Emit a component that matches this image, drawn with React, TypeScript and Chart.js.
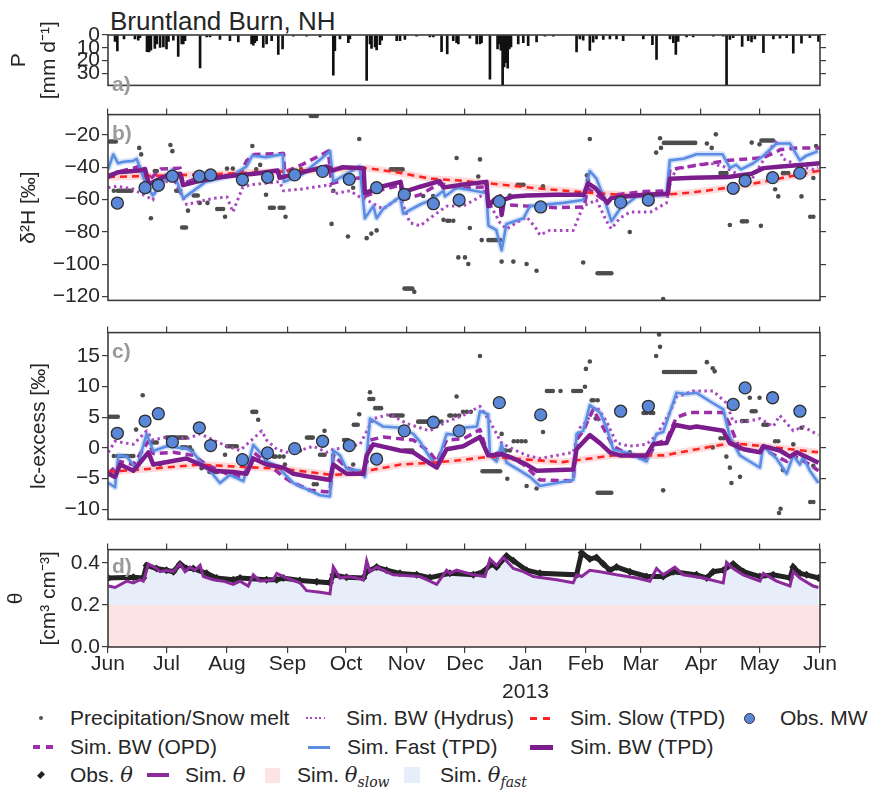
import React, { useEffect, useRef } from "react";
import { Chart, registerables } from "chart.js";

Chart.register(...registerables);

type Pt = [number, number];

// ---------- time axis: days counted from 1 June 2012 ----------
const monthDays = [0, 30, 61, 92, 122, 153, 183, 214, 245, 273, 304, 334, 365];
const monthNames = ["Jun", "Jul", "Aug", "Sep", "Oct", "Nov", "Dec", "Jan", "Feb", "Mar", "Apr", "May", "Jun"];
const newYearLabel = "2013";

// ---------- value-axis ticks ----------
const rainTicks = [0, 10, 20, 30];
const d2hTicks = [-120, -100, -80, -60, -40, -20];
const lcTicks = [-10, -5, 0, 5, 10, 15];
const thetaTicks = [0, 0.2, 0.4];

// ---------- a) daily precipitation / snow melt [mm/d] ----------
const rainfall: Pt[] = [
  [3.6, 5], [4.8, 12.6], [8.2, 3], [13.8, 3], [15.5, 4], [16.4, 2], [20, 13], [21, 13.2], [22, 12],
  [24, 10.5], [25, 7], [26.7, 9.8], [28.4, 9.4], [30, 10.9], [31, 5], [33.5, 4], [36, 16.8], [37.8, 7],
  [38.6, 7], [39.5, 4.5], [47.2, 25.8], [50.6, 1.5], [52.3, 1.5], [57.4, 3.5], [62.5, 4.5], [66.8, 5.5],
  [73.6, 7], [74.5, 8], [75.3, 6], [76.2, 4.5], [79.6, 9.8], [81.3, 7], [83.9, 4.5], [87.3, 15.3],
  [89.5, 11], [95, 1], [101.8, 1], [108.7, 1.5], [115.5, 31.6], [116.3, 12.4], [118.9, 3], [123.2, 6],
  [124, 3], [132.6, 35.6], [134.3, 7], [135.1, 10.5], [136.9, 9.4], [137.7, 11.8], [139.4, 7.5],
  [140.3, 4], [148, 4.5], [149.7, 4.5], [152.2, 3.5], [158.2, 1], [165, 1.5], [166.8, 1.5], [171, 13],
  [173.9, 14.8], [177, 4.5], [178.7, 6], [179.6, 7], [185.5, 2.5], [189, 7], [190.7, 7], [191.5, 6],
  [195.8, 34.8], [199.7, 10.9], [200.6, 7], [201.4, 12], [202.3, 45], [203.1, 25], [204, 21.8],
  [204.9, 26], [205.7, 11], [206.6, 9.4], [210.3, 7], [212.9, 6], [215.4, 8.3], [219.7, 5.4], [224, 1],
  [228.3, 1], [240.2, 13.3], [241.9, 3], [243.6, 4], [247, 12.2], [248.7, 5.7], [250.4, 3], [253.9, 3.5],
  [257.3, 3], [260.7, 3], [264.1, 4.5], [274.4, 3], [279.1, 7.5], [281.2, 19.2], [288.1, 3], [289.8, 6],
  [291.1, 15.3], [292.3, 5], [296.6, 1.5], [300, 1.5], [310.3, 1], [315.4, 1], [317.1, 45], [318.8, 3.5],
  [320.5, 2], [325.1, 8.9], [328.2, 4.5], [329.9, 5.4], [331.6, 3], [336, 13.9], [341.1, 3], [344.5, 2.5],
  [347.9, 2], [351.3, 14.2], [355.5, 6.5], [359.8, 2], [364.2, 5],
];

// ---------- b) deuterium [permil] ----------
const precipD2H: Pt[] = [
  [1, -24], [2, -24], [3, -24], [4, -24],
  [3, -54.5], [5, -54.5], [6, -54.5], [7, -54.5], [8, -54.5], [9, -54.5], [10, -54.5], [11, -54.5], [12, -54.5],
  [16, -28], [17, -32], [22, -71.5], [24, -42.3], [25, -42.3], [32, -26.2], [33, -30],
  [35, -54.5], [36, -54.5], [37, -54.5], [38, -77.2], [39, -77.2], [40, -77.2], [41, -66.8],
  [44, -57.4], [45, -57.4], [46, -57.4], [47, -62], [51, -62],
  [56, -65.8], [57, -65.8], [58, -65.8], [59, -65.8], [60, -70.6], [61, -40.8], [64, -40.8],
  [74, -26.8], [76, -41.3], [78, -38.5], [81, -57], [83, -65], [84, -65], [85, -65], [88, -65], [89, -65],
  [90, -65], [91, -70.6], [99, -41.3], [104, -8.3], [105, -8.3], [106, -8.3], [107, -8.3],
  [114.6, -75], [115.5, -54.5], [123, -82.8], [125.7, -52.6], [128.8, -22.5], [132.6, -83.8], [135, -81],
  [137.7, -79], [145, -41.3], [146, -41.3], [147, -41.3], [148, -41.3], [149, -41.3], [150, -41.3], [151, -41.3],
  [152, -115], [153, -115], [154, -115], [155, -115], [156, -115], [157, -117], [161.6, -57.7], [166.7, -57.7],
  [172, -72.5], [174, -73], [175, -73], [177, -73], [178.7, -34.2], [179.6, -95.7], [183, -95.7],
  [184.7, -99.8], [185.5, -77.5], [189.8, -45.7], [190.7, -35.1], [191.6, -85],
  [195, -85], [196, -85], [197, -85], [198, -85], [199, -85], [200, -85], [201, -85], [201.8, -98.3],
  [206, -57.4], [207.8, -98.3], [210, -50.8], [211, -50.8], [212, -50.8], [213, -50.8], [214.6, -99.8],
  [219.7, -104], [223, -51.7], [243.6, -98.9], [245.5, -45], [246, -48], [247, -22.5],
  [251, -105.5], [252, -105.5], [253, -105.5], [254, -105.5], [255, -105.5], [256, -105.5], [257, -105.5], [258, -105.5],
  [267.5, -80], [281, -30.9], [283, -22], [283.5, -28], [284.6, -121.5],
  [285, -24.9], [286, -24.9], [287, -24.9], [288, -24.9], [289, -24.9], [290, -24.9], [291, -24.9], [292, -24.9],
  [293, -24.9], [294, -24.9], [295, -24.9], [296, -24.9], [297, -24.9], [298, -24.9], [299, -24.9], [300, -24.9], [301, -24.9],
  [307, -25.3], [309.5, -28], [311.6, -19.6], [314, -43.6], [315, -43.6], [316, -43.6], [317, -43.6],
  [318.8, -75.7], [325, -73.4], [326, -73.4], [327.5, -73.4], [330, -24.7], [334, -25.8], [334.7, -76.2],
  [335, -23.4], [336, -23.4], [337, -23.4], [338, -23.4], [339, -23.4], [340, -23.4], [341, -23.4],
  [342, -53.6], [343.6, -58], [346, -43.6], [347, -43.6], [348.7, -43.6], [355.5, -58], [360, -70.6],
  [361.6, -70.6], [361.6, -46.6], [363, -26.8],
];

const simHydrusD2H: Pt[] = [
  [0, -52.6], [4.4, -51.7], [13, -53.5], [23, -60.2], [24.9, -51.7], [33.5, -47], [40.3, -63], [47, -61.1],
  [54, -59.2], [61, -58.3], [64, -67.7], [69, -52.6], [72.8, -50.8], [81, -49.8], [88, -48.9], [89.9, -54.5],
  [98.4, -53.6], [113.8, -50.8], [115.5, -56.4], [124, -54.5], [129, -58.3], [132.6, -60.2], [141, -65.8],
  [149.7, -58.3], [154.8, -74.3], [160, -76.2], [166.7, -70], [173.6, -64], [182, -63.9], [190.7, -58.3],
  [194, -52.6], [195.8, -63], [201, -74.3], [204.3, -78.2], [209.4, -74.3], [214.6, -70.6], [219.7, -78.2],
  [221.4, -81.9], [226.5, -79], [238.5, -79], [243.6, -63.9], [250.4, -60.2], [255.6, -73.4], [258, -78],
  [262.4, -71.5], [267.5, -67.7], [278, -67.7], [286.3, -62], [288, -50.8], [291, -41.3], [301.7, -38.5],
  [308.5, -37.5], [315.3, -39.4], [324, -45], [328, -51.7], [334, -39.4], [342.7, -23], [346, -34.7],
  [354.7, -39.4], [361.5, -41.3], [364, -40],
];

const simSlowD2H: Pt[] = [
  [0, -46], [30, -45], [60, -44], [90, -42.5], [115, -41.2], [133, -40.5], [150, -43.5], [165, -47],
  [180, -48.2], [196, -50], [220, -53], [245, -55.5], [267, -57.3], [287, -56.8], [300, -55.5],
  [318, -52.6], [336, -49], [350, -45.5], [365, -42],
];

const simBwOpdD2H: Pt[] = [
  [0, -45], [8, -42], [16, -39.5], [21, -48], [27, -41], [37, -40.5], [38.5, -50], [45, -47], [60, -45],
  [68, -44], [71, -36], [75, -32], [90, -31.5], [90.5, -43], [100, -38], [113, -30], [114.5, -50],
  [125, -47], [131, -46.5], [131.7, -58], [140, -54], [150, -51], [151, -60], [160, -57], [170, -50],
  [180, -53], [194, -52], [195, -64], [203, -63], [215, -64], [230, -65], [244, -64.5], [246, -53],
  [256, -62], [260, -57], [275, -55], [287, -54.5], [288, -41.3], [295, -40], [309, -37.5], [318, -35.7],
  [336, -34], [345, -29], [354, -28], [365, -28],
];

const simFastD2H: Pt[] = [
  [0, -41.3], [2.7, -32], [5.2, -37.5], [8, -36.6], [13, -36], [14.7, -34.7], [19.6, -50.8], [23, -57.4],
  [33, -41.3], [38.6, -59.2], [50, -49], [64, -45], [71, -39.4], [74, -32.8], [81, -33.7], [89.6, -31.9],
  [90.2, -49], [100, -44], [113.8, -30], [115.5, -48.9], [129, -39.4], [131.7, -71.5], [136, -64],
  [137.7, -71.5], [141, -65.8], [149.7, -58.3], [151.4, -68.7], [160, -63], [166, -60], [172, -54.5],
  [172.7, -58], [178.7, -52.6], [190, -55], [194, -56], [195, -76], [199, -78.7], [201.8, -91.3],
  [204.3, -75], [213, -71.5], [216.3, -64], [233.4, -62], [243.6, -60.2], [247, -42.3], [250.4, -47],
  [254, -58], [258.1, -73.4], [262.4, -65.8], [271, -58], [286.3, -57.1], [288, -35.7], [295, -34.7],
  [301.7, -31.9], [315, -31.9], [318.8, -40.4], [322, -38.5], [324.6, -41.3], [330.7, -37.5], [336, -32.8],
  [342.7, -25.3], [349.6, -25.3], [354.7, -35.7], [358, -32.8], [364, -30],
];

const simBwTpdD2H: Pt[] = [
  [0, -46], [5, -43], [16, -42], [19, -41], [21, -50.5], [25, -48], [30, -45], [37, -44], [38.5, -51],
  [45, -49], [55, -46.5], [65, -45], [75, -44], [87, -42], [88, -46.5], [100, -43], [112, -39.5],
  [114, -40.5], [115, -42], [120, -40], [131, -40.5], [131.7, -56], [140, -52], [150, -49], [151, -55.5],
  [160, -52], [170, -48.5], [172, -52.5], [180, -51], [194, -49], [195, -64], [198, -60], [201, -58],
  [201.8, -69.5], [203, -60], [208, -58], [215, -57.5], [230, -57], [244, -57], [246, -49.8], [250, -53],
  [256, -62], [258, -59], [265, -58], [275, -57], [287, -56.4], [288, -47], [300, -46.5], [318, -46],
  [330, -44], [336, -40.5], [345, -39.5], [355, -38.5], [365, -37.5],
];

// mobile-water sampling dates and values
const obsMwDays = [4.8, 19, 25.8, 33, 46.8, 52.6, 68.9, 81.8, 95.7, 110, 123.7, 137.7, 151.9, 166.8, 180, 200.6, 221.8, 262.8, 277, 320.5, 326.6, 340.7, 354.7];
const obsMwD2H = [-62.1, -52.6, -51.1, -45.5, -45.5, -44.7, -47.7, -46.2, -44.7, -42.5, -47.4, -52.6, -56.8, -62.5, -60.2, -61.1, -64.5, -61.7, -60.2, -53, -48.3, -46.4, -43.6];
const obsMwLc = [2.4, 4.4, 5.6, 1.0, 3.3, 0.4, -1.9, -0.8, -0.1, 1.1, 0.4, -1.8, 2.8, 4.2, 2.8, 7.4, 5.4, 6.0, 6.8, 7.1, 9.8, 8.2, 6.0];

// ---------- c) lc-excess [permil] ----------
const precipLc: Pt[] = [
  [1, 5.1], [2, 5.1], [3, 5.1], [4, 5.1], [5, 5.1],
  [3, -1.3], [5, -1.3], [6, -1.3], [7, -1.3], [8, -1.3], [9, -1.3], [10, -1.3], [11, -1.3], [12, -1.3], [13, -1.3],
  [2.7, 2.1], [14.4, 3.0], [17.8, 8.6], [17.8, 4.4], [22, 0.9], [23, 0.9], [24, 0.9], [25, 0.9], [26.7, -2.7],
  [30, 1.7], [31, 1.7], [32, 1.7], [33, 1.7], [34, 1.7], [35, 1.7], [36, 1.7], [37, 1.7], [38, 1.7], [39, 1.7], [40, 1.7],
  [38, 0.1], [39, 0.1], [40, 0.1], [42, 0.1], [43, -0.4], [48, -3.3], [52, -3.9], [53, -3.9], [55, -3.9], [56, -3.9],
  [60, -1.1], [61, 0.3], [62, 0.3], [63, 0.3], [64, 0.3], [65, 0.3], [66, 0.3],
  [74, 5.9], [75, 5.9], [76, 5.9], [77, 4.6], [81, -1.9], [85, -1.4], [86, -1.4], [88, -1.4], [90, -1.4], [90.7, -2.7],
  [98.4, -0.4], [102, 1.7], [103, 1.7], [104, 1.7], [105, 1.7], [105.5, -5.9], [107, -5.9], [108.7, -1.1], [110, -1.1],
  [111, -1.1], [111, 2.8], [115.5, -1.2], [121, 1.3], [122, 1.3], [123, 1.3], [125.7, -2.7], [126, 3.8], [127, 3.8],
  [128, 3.8], [128.8, 5.5], [132.6, -2.2], [134, 8.0], [134.3, 9.1], [135, 8.0], [136, 8.0], [137, 6.5], [138, 6.5],
  [139, 6.5], [140, 6.5], [145, 5.3], [146, 5.3], [147, 5.3], [148, 5.3], [149, 5.3], [150, 5.3], [151, 5.3],
  [152, -0.4], [153, -0.4], [154, -0.4], [155, -0.4], [156, -0.4],
  [159, 4.3], [160, 4.3], [161, 4.3], [162, 4.3], [163, 4.3], [164, 4.3], [165, 4.3], [167, 4.3], [169, 4.3], [171, 4.3],
  [175, 5.3], [176, 5.3], [178, 5.3], [180, 5.3], [178.7, 8.4], [182, 5.9], [184, 5.9], [186, 5.9], [190.7, 15.0],
  [192, -3.8], [193, -3.8], [194, -3.8], [195, -3.8], [196, -3.8], [197, -3.8], [198, -3.8], [199, -3.8], [200, -3.8], [201, -3.8],
  [201.8, 2.3], [203, -0.4], [204, -0.4], [206, -0.4], [204.7, -5.0], [208, 1.1], [210, 1.1], [212, 1.1], [214, 1.1],
  [214.6, -6.2], [219.7, -6.6], [223, 2.6], [225, 9.3], [226, 9.3], [227, 9.3], [228, 9.3], [232, 9.3],
  [238.5, 9.3], [239.5, 9.3], [240.5, 9.3], [241.5, 9.3], [242.5, 9.3], [244.5, 10.0], [245, 12.9], [247, 14.1],
  [248, 7.8], [249, 7.8], [251, 7.8], [250, 4.8],
  [251, -7.3], [252, -7.3], [253, -7.3], [254, -7.3], [255, -7.3], [256, -7.3], [257, -7.3], [258, -7.3],
  [267.5, -0.7], [274.5, 5.7], [276, 5.7], [278, 5.7], [279.5, 5.7], [281, 15.0], [283, 16.5], [282.5, 18.5], [284.6, -6.9],
  [285, 12.4], [286, 12.4], [287, 12.4], [288, 12.4], [289, 12.4], [290, 12.4], [291, 12.4], [292, 12.4], [293, 12.4],
  [294, 12.4], [295, 12.4], [296, 12.4], [297, 12.4], [298, 12.4], [299, 12.4], [300, 12.4], [301, 12.4],
  [307, 14.0], [310, 13.0], [311, 12.5], [310, 0.1], [314, 1.6], [315.6, 1.6], [317, -1.4], [318.8, -3.2],
  [319.6, -5.7], [324, -4.7], [325, 4.4], [326, 4.4], [327.5, 4.4], [329, 8.2], [330, 6.0], [331, 6.0], [332, 6.0],
  [334, 8.2], [336, 3.8], [337, 3.8], [338, 3.8], [342, 1.1], [343.6, 1.1], [344, -10.6], [344.8, -9.9],
  [346, -3.6], [351.3, 0.6], [355.5, 3.3], [360, -8.8], [361.6, -8.8], [361.6, -2.9],
];

const simHydrusLc: Pt[] = [
  [0.2, -0.7], [3.6, 1.1], [13, 0.6], [19.8, 2.8], [23.2, 1.3], [30, 1.8], [40.3, 1.5], [47.2, 2.3], [54, 1.3],
  [60.8, 0.3], [67.7, -0.4], [78.8, 2.8], [81.3, 1.3], [86.5, -0.2], [91.6, -0.7], [98.4, -0.4], [105.2, 0.3],
  [112.1, -0.7], [115.5, -0.2], [122.3, 0.1], [129.2, 0.6], [136, 4.8], [144.5, 5.5], [153.1, 4.0],
  [159.9, 3.3], [165, 2.8], [173.6, 4.3], [182.1, 5.3], [190.7, 6.8], [195.8, 4.3], [201.8, 0.8], [207.8, -0.2],
  [214.6, -1.2], [221.4, -1.7], [238.5, -0.7], [241.9, 3.3], [245.3, 4.3], [250.4, 6.8], [255.6, 4.3],
  [260.7, 0.8], [267.5, 0.3], [276.1, 0.6], [281.2, 2.1], [288, 5.8], [291.4, 8.3], [300, 9.3], [310.2, 9.3],
  [317.1, 7.3], [320.5, 4.3], [327.3, 4.3], [334.2, 4.8], [341, 3.5], [344.4, 5.3], [351.3, 2.8], [356.4, 3.5],
  [364.2, 2.1],
];

const simSlowLc: Pt[] = [
  [0, -3.9], [25, -3.3], [47, -2.7], [70, -3.1], [90, -3.4], [105, -4.0], [115, -4.4], [125, -4.2], [135, -3.6],
  [150, -2.7], [166, -2.4], [180, -2.0], [196, -1.4], [215, -1.9], [233, -2.3], [245, -1.8], [259, -1.2],
  [285, -1.2], [302, -0.2], [319, 0.8], [336, 0.3], [350, -0.2], [364, -0.7],
];

const simBwOpdLc: Pt[] = [
  [0.2, -4.2], [6.2, -2.2], [13, -2.7], [20.7, 1.1], [23.2, -0.9], [33.5, -0.7], [43.7, -1.2], [50.6, -2.7],
  [60.8, -4.2], [69.4, -4.7], [74.5, -0.7], [81.3, -2.4], [89.9, -4.7], [95, -5.7], [103.5, -6.9],
  [113.8, -7.2], [115.5, -1.2], [122.3, -3.2], [130.9, -4.2], [134.3, 1.3], [141.1, 1.8], [149.7, 1.5],
  [156.5, 1.3], [165, -0.7], [168.5, -2.2], [173.6, 1.3], [182.1, 1.5], [190.7, 3.0], [194.9, -1.2],
  [201.8, -0.7], [213, -2.7], [221.4, -5.2], [238.5, -5.4], [240.2, 1.3], [243.6, 2.8], [248.7, 6.3],
  [253.9, 3.3], [259, 0.3], [267.5, -1.2], [276.1, -1.9], [281.2, 0.8], [286.3, 1.3], [291.4, 5.0],
  [298.3, 5.8], [315.4, 5.8], [318.8, 3.8], [323.9, -0.2], [334.2, -0.7], [335.9, -0.2], [347.9, -2.2],
  [351.3, -1.2], [359.8, -2.7], [364.2, -3.7],
];

const simFastLc: Pt[] = [
  [0.2, -5.7], [3.6, -6.4], [5.3, -1.2], [9.6, -1.4], [14.7, -3.4], [19.8, 2.3], [23.2, -0.5], [30, 0.3],
  [40.3, -0.1], [43.7, -0.7], [47.2, -2.2], [52.3, -3.7], [57.4, -5.7], [62.5, -4.4], [69.4, -5.4],
  [74.5, 0.5], [77.9, -0.7], [81.3, -2.2], [86.5, -2.9], [95, -5.7], [101.8, -6.7], [108.7, -7.7],
  [113.8, -7.9], [115.5, -0.4], [118.9, -1.2], [122.3, -3.4], [129.2, -3.7], [131.7, -4.7], [134.3, 4.8],
  [141.1, 3.5], [149.7, 3.3], [156.5, 2.3], [160, 1.0], [165, -1.5], [168.5, -2.9], [173.6, 2.3],
  [178.7, 2.1], [182.1, 3.3], [189.1, 3.5], [190.7, 6.0], [194.9, 5.5], [195.8, -1.2], [199.2, -2.2],
  [201.8, 0.6], [204.3, -2.4], [211.2, -3.7], [216.3, -4.7], [221.4, -6.2], [229.9, -5.7], [238.5, -5.2],
  [240.2, 2.3], [243.6, 2.8], [247, 7.0], [252.2, 5.8], [255.6, 3.3], [259, -0.2], [267.5, -0.9],
  [276.1, -2.2], [281.2, 2.3], [284.6, 2.6], [291.4, 9.0], [296.6, 8.8], [301.7, 9.0], [310.2, 7.3],
  [315.4, 6.3], [318.8, 1.8], [323.9, -1.2], [329, -2.2], [334.2, -3.2], [335.9, 0.3], [342.7, -1.7],
  [347.9, -4.2], [351.3, -1.2], [354.7, -2.7], [356.4, -1.4], [359.8, -3.7], [364.2, -5.7],
];

const simBwTpdLc: Pt[] = [
  [0.2, -4.2], [3.6, -4.7], [6.2, -2.7], [13, -3.7], [20.7, -0.7], [23.2, -2.7], [31.8, -2.2], [40.3, -1.7],
  [47.2, -2.7], [54, -3.7], [64.2, -3.9], [71, -4.2], [74.5, -1.7], [81.3, -2.7], [89.9, -3.2], [95, -4.2],
  [103.5, -4.7], [113.8, -5.2], [115.5, -2.7], [122.3, -4.2], [130.9, -4.2], [132.6, -1.2], [136, 0.6],
  [149.7, -0.4], [156.5, -0.7], [165, -2.5], [168.5, -3.2], [173.6, -0.2], [182.1, 0.3], [190.7, 1.8],
  [194.9, -1.2], [201.8, -1.0], [207.8, -1.7], [214.6, -2.7], [219.7, -3.7], [238.5, -3.5], [240.2, -0.2],
  [247, 2.1], [252.2, 0.8], [257.3, -0.7], [262.4, -1.2], [276.1, -1.2], [279.5, 0.6], [286.3, 0.8],
  [290.5, 3.8], [298.3, 3.3], [301.7, 3.5], [315.4, 2.8], [318.8, 0.8], [325.8, -0.2], [334.2, -0.7],
  [335.9, 0.3], [344.4, -0.4], [349.6, -1.4], [353, -0.7], [359.8, -1.7], [364.2, -2.4],
];

// ---------- d) soil moisture [cm3/cm3] ----------
const thetaSlowMax = 0.2;

const obsTheta: Pt[] = [
  [0.2, 0.328], [13, 0.331], [18.1, 0.328], [19.8, 0.388], [24.9, 0.373], [30, 0.365], [33.5, 0.358],
  [36.9, 0.395], [40.3, 0.373], [43.7, 0.373], [50.6, 0.35], [55.7, 0.328], [64.2, 0.32], [67.7, 0.328],
  [81.3, 0.32], [86.5, 0.32], [89.9, 0.328], [98.4, 0.316], [107, 0.31], [113.8, 0.305], [115.5, 0.343],
  [122.3, 0.331], [130.9, 0.328], [132.6, 0.358], [137.7, 0.38], [142.8, 0.365], [149.7, 0.35],
  [158.2, 0.343], [165, 0.33], [175.3, 0.35], [187.3, 0.343], [192.4, 0.358], [196.7, 0.395], [199.2, 0.38],
  [204.3, 0.433], [207.8, 0.41], [214.6, 0.365], [221.4, 0.35], [240.2, 0.343], [242.8, 0.448], [247, 0.418],
  [250.4, 0.426], [253.9, 0.395], [257.3, 0.365], [260.7, 0.38], [267.5, 0.358], [276.1, 0.335],
  [284.6, 0.335], [289.7, 0.358], [301.7, 0.343], [306.9, 0.328], [310.2, 0.358], [315.4, 0.365],
  [320.5, 0.395], [325.8, 0.358], [334.2, 0.335], [341, 0.343], [349.6, 0.328], [351.3, 0.38],
  [354.7, 0.35], [358.1, 0.343], [364.2, 0.328],
];

const simTheta: Pt[] = [
  [0.2, 0.29], [3.6, 0.283], [9.6, 0.313], [13, 0.305], [16.4, 0.32], [18.1, 0.313], [20.7, 0.395],
  [24.9, 0.373], [26.7, 0.358], [30, 0.365], [33.5, 0.358], [36.9, 0.395], [39.5, 0.358], [42, 0.38],
  [44.6, 0.365], [47.2, 0.388], [48.9, 0.335], [54, 0.32], [59.1, 0.313], [64.2, 0.298], [67.7, 0.313],
  [71.9, 0.29], [74.5, 0.343], [77.9, 0.313], [84.7, 0.32], [86.5, 0.35], [91.6, 0.328], [98.4, 0.305],
  [101.8, 0.268], [108.7, 0.26], [113.8, 0.253], [115.5, 0.38], [118.9, 0.328], [124, 0.335], [130.9, 0.32],
  [132.6, 0.41], [134.3, 0.358], [137.7, 0.38], [146.2, 0.343], [159.9, 0.335], [165, 0.313], [168.5, 0.298],
  [173.6, 0.365], [175.3, 0.35], [178.7, 0.365], [187.3, 0.343], [193.2, 0.335], [195.8, 0.418],
  [199.2, 0.388], [202.6, 0.426], [207.8, 0.373], [212.9, 0.358], [218, 0.335], [230, 0.32], [238.5, 0.305],
  [240.2, 0.343], [242.8, 0.335], [247, 0.365], [252.2, 0.358], [260.7, 0.343], [271, 0.328], [277.8, 0.313],
  [281.2, 0.373], [284.6, 0.343], [290.6, 0.38], [294.9, 0.343], [305.1, 0.328], [315.4, 0.305],
  [317.1, 0.403], [320.5, 0.373], [325.6, 0.343], [334.2, 0.313], [336, 0.35], [342.7, 0.313], [349.6, 0.29],
  [351.3, 0.358], [354.7, 0.328], [361.5, 0.29], [364.2, 0.283],
];

// ---------- styling ----------
const FONT = "'Liberation Sans', Arial, Helvetica, sans-serif";
const INK = "#262626";
const FRAME = "#3c3c3c";
const TICK_SIZE = 21;
const PURPLE = "#7c1d8d";
const PURPLE_DASH = "#9a2fa9";
const PURPLE_DOT = "#a848c0";
const BLUE = "#5a8de3";
const RED = "#ff2424";
const MW_FILL = "#5b87d9";
const GREY_DOT = "#4d4d4d";

Chart.defaults.font.family = FONT;
Chart.defaults.color = INK;

const xy = (pts: Pt[]) => pts.map(([x, y]) => ({ x, y }));
const zipXY = (xs: number[], ys: number[]) => xs.map((x, i) => ({ x, y: ys[i] }));
const fixTicks = (values: number[]) => (scale: any) => {
  scale.ticks = values.map((value) => ({ value }));
};
const signed = (v: number) => (v < 0 ? "\u2212" + Math.abs(v) : String(v));

const tickGrid = {
  drawOnChartArea: false,
  drawTicks: true,
  tickLength: 6,
  color: FRAME,
  lineWidth: 1.2,
  offset: false,
};

function xScales(withLabels: boolean, withTopTicks: boolean) {
  const xMin = monthDays[0];
  const xMax = monthDays[monthDays.length - 1];
  const scales: any = {
    x: {
      type: "linear",
      position: "bottom",
      min: xMin,
      max: xMax,
      offset: false,
      display: withLabels,
      afterBuildTicks: fixTicks(monthDays),
      afterFit: (s: any) => {
        s.height = withLabels ? 53 : 0;
      },
      grid: tickGrid,
      border: { display: false },
      ticks: {
        autoSkip: false,
        maxRotation: 0,
        minRotation: 0,
        padding: -2,
        color: INK,
        font: { size: TICK_SIZE, lineHeight: 1.3 },
        callback: (v: number) => {
          const name = monthNames[monthDays.indexOf(v)] ?? "";
          return name === "Jan" ? [name, newYearLabel] : name;
        },
      },
    },
  };
  if (withTopTicks) {
    scales.xTop = {
      type: "linear",
      position: "top",
      min: xMin,
      max: xMax,
      afterBuildTicks: fixTicks(monthDays),
      afterFit: (s: any) => {
        s.height = 6;
      },
      grid: tickGrid,
      border: { display: false },
      ticks: { display: false },
    };
  }
  return scales;
}

function yScales(o: {
  min: number;
  max: number;
  ticks: number[];
  fmt: (v: number) => string;
  title: string | string[];
  titleLine: number;
  titlePad: number;
  reverse?: boolean;
}) {
  return {
    y: {
      type: "linear",
      position: "left",
      min: o.min,
      max: o.max,
      reverse: !!o.reverse,
      afterBuildTicks: fixTicks(o.ticks),
      afterFit: (s: any) => {
        s.width = 108;
      },
      grid: tickGrid,
      border: { display: false },
      ticks: { autoSkip: false, padding: 2, color: INK, font: { size: TICK_SIZE }, callback: (v: number) => o.fmt(v) },
      title: {
        display: true,
        text: o.title,
        color: INK,
        font: { size: TICK_SIZE, lineHeight: o.titleLine },
        padding: { top: o.titlePad, bottom: 0 },
      },
    },
    y2: {
      type: "linear",
      position: "right",
      min: o.min,
      max: o.max,
      reverse: !!o.reverse,
      afterBuildTicks: fixTicks(o.ticks),
      afterFit: (s: any) => {
        s.width = 7;
      },
      grid: tickGrid,
      border: { display: false },
      ticks: { display: false },
    },
  };
}

// Frame around each panel plus its a)/b)/c)/d) tag
const framePlugin = {
  id: "frame",
  afterDatasetsDraw(chart: any, _args: any, opts: any) {
    const { ctx, chartArea } = chart;
    const { left, top, right, bottom } = chartArea;
    ctx.save();
    ctx.strokeStyle = FRAME;
    ctx.lineWidth = 1.6;
    ctx.strokeRect(left, top, right - left, bottom - top);
    if (opts && opts.tag) {
      ctx.font = `bold 21px ${FONT}`;
      ctx.fillStyle = "#9a9a9a";
      ctx.textBaseline = "alphabetic";
      ctx.textAlign = "left";
      ctx.fillText(opts.tag, left + 4, top + opts.tagDy);
    }
    ctx.restore();
  },
};

function baseOptions(scales: any, tag: string, tagDy: number, padding: any) {
  return {
    responsive: false,
    maintainAspectRatio: false,
    animation: false,
    events: [],
    layout: { padding },
    scales,
    plugins: {
      legend: { display: false },
      tooltip: { enabled: false },
      title: { display: false },
      filler: { drawTime: "beforeDatasetsDraw" },
      frame: { tag, tagDy },
    },
  };
}

const lineSet = (data: any[], color: string, width: number, order: number, dash: number[] = []) => ({
  type: "line",
  data,
  borderColor: color,
  backgroundColor: color,
  borderWidth: width,
  borderDash: dash,
  pointRadius: 0,
  fill: false,
  tension: 0,
  order,
  borderJoinStyle: "round",
});

const dotSet = (data: any[], order: number) => ({
  type: "scatter",
  data,
  pointRadius: 2.3,
  pointBackgroundColor: GREY_DOT,
  pointBorderWidth: 0,
  order,
});

const mwSet = (data: any[]) => ({
  type: "scatter",
  data,
  pointRadius: 6,
  pointBackgroundColor: MW_FILL,
  pointBorderColor: "#2e2e2e",
  pointBorderWidth: 1.3,
  order: 0,
});

function rainConfig(): any {
  return {
    type: "bar",
    data: {
      datasets: [{ data: xy(rainfall), backgroundColor: "#111111", barThickness: 2, grouped: false }],
    },
    options: baseOptions(
      {
        ...xScales(false, false),
        ...yScales({
          min: 0,
          max: 39.6,
          reverse: true,
          ticks: rainTicks,
          fmt: (v) => String(v),
          title: ["P", "[mm d\u207B\u00B9]"],
          titleLine: 1.4,
          titlePad: 5,
        }),
      },
      "a)",
      56,
      { top: 35, bottom: 4, left: 0, right: 42 }
    ),
    plugins: [framePlugin],
  };
}

function d2hConfig(): any {
  return {
    type: "scatter",
    data: {
      datasets: [
        dotSet(xy(precipD2H), 9),
        lineSet(xy(simSlowD2H), "rgba(255,70,70,0.2)", 7, 8),
        lineSet(xy(simFastD2H), "rgba(91,141,228,0.26)", 6, 7),
        lineSet(xy(simHydrusD2H), PURPLE_DOT, 3, 6, [2.5, 3.5]),
        lineSet(xy(simBwOpdD2H), PURPLE_DASH, 3.5, 5, [8, 5]),
        lineSet(xy(simFastD2H), BLUE, 2.6, 4),
        lineSet(xy(simSlowD2H), RED, 2.6, 3, [7, 5]),
        lineSet(xy(simBwTpdD2H), PURPLE, 4.5, 2),
        mwSet(zipXY(obsMwDays, obsMwD2H)),
      ],
    },
    options: baseOptions(
      {
        ...xScales(false, true),
        ...yScales({
          min: -122.3,
          max: -7.4,
          ticks: d2hTicks,
          fmt: signed,
          title: "\u03B4\u00B2H [\u2030]",
          titleLine: 1.2,
          titlePad: 17,
        }),
      },
      "b)",
      25,
      { top: 4, bottom: 2, left: 0, right: 42 }
    ),
    plugins: [framePlugin],
  };
}

function lcConfig(): any {
  return {
    type: "scatter",
    data: {
      datasets: [
        dotSet(xy(precipLc), 9),
        lineSet(xy(simSlowLc), "rgba(255,70,70,0.2)", 7, 8),
        lineSet(xy(simFastLc), "rgba(91,141,228,0.26)", 6, 7),
        lineSet(xy(simHydrusLc), PURPLE_DOT, 3, 6, [2.5, 3.5]),
        lineSet(xy(simBwOpdLc), PURPLE_DASH, 3.5, 5, [8, 5]),
        lineSet(xy(simFastLc), BLUE, 2.6, 4),
        lineSet(xy(simSlowLc), RED, 2.6, 3, [7, 5]),
        lineSet(xy(simBwTpdLc), PURPLE, 4.5, 2),
        mwSet(zipXY(obsMwDays, obsMwLc)),
      ],
    },
    options: baseOptions(
      {
        ...xScales(false, true),
        ...yScales({
          min: -11.64,
          max: 18.82,
          ticks: lcTicks,
          fmt: signed,
          title: "lc-excess [\u2030]",
          titleLine: 1.2,
          titlePad: 27,
        }),
      },
      "c)",
      25,
      { top: 4, bottom: 2, left: 0, right: 42 }
    ),
    plugins: [framePlugin],
  };
}

function thetaConfig(): any {
  const xMin = monthDays[0];
  const xMax = monthDays[monthDays.length - 1];
  return {
    type: "scatter",
    data: {
      datasets: [
        {
          type: "line",
          data: [
            { x: xMin, y: thetaSlowMax },
            { x: xMax, y: thetaSlowMax },
          ],
          borderWidth: 0,
          pointRadius: 0,
          fill: "origin",
          backgroundColor: "#fde3e3",
          order: 9,
        },
        {
          type: "line",
          data: xy(obsTheta),
          borderColor: "#232323",
          borderWidth: 5,
          pointStyle: "rectRot",
          pointRadius: 4,
          pointBackgroundColor: "#232323",
          pointBorderWidth: 0,
          fill: false,
          tension: 0,
          order: 2,
        },
        {
          type: "line",
          data: xy(simTheta),
          borderColor: "#8b2a9b",
          borderWidth: 3,
          pointRadius: 0,
          fill: { value: thetaSlowMax },
          backgroundColor: "#e8eef9",
          tension: 0,
          order: 1,
        },
      ],
    },
    options: baseOptions(
      {
        ...xScales(true, true),
        ...yScales({
          min: 0,
          max: 0.463,
          ticks: thetaTicks,
          fmt: (v) => v.toFixed(1),
          title: ["\u03B8", "[cm\u00B3 cm\u207B\u00B3]"],
          titleLine: 1.57,
          titlePad: 0,
        }),
      },
      "d)",
      23,
      { top: 4, bottom: 0, left: 0, right: 42 }
    ),
    plugins: [framePlugin],
  };
}

// ---------- legend ----------
type MarkKind =
  | "dot"
  | "dotted"
  | "dashRed"
  | "circle"
  | "dashPurple"
  | "blueLine"
  | "purpleThick"
  | "diamond"
  | "purpleLine"
  | "pinkBox"
  | "blueBox";

const legendRowsY = [718, 747, 775];

const theta = <i style={{ fontFamily: "'DejaVu Serif', serif" }}>θ</i>;
const subStyle: React.CSSProperties = { fontFamily: "'DejaVu Serif', serif", fontStyle: "italic", fontSize: 14 };

const legendItems: { row: number; mx: number; mw: number; tx: number; mark: MarkKind; label: React.ReactNode }[] = [
  { row: 0, mx: 39, mw: 4, tx: 70, mark: "dot", label: "Precipitation/Snow melt" },
  { row: 0, mx: 306, mw: 19, tx: 346, mark: "dotted", label: "Sim. BW (Hydrus)" },
  { row: 0, mx: 530, mw: 22, tx: 570, mark: "dashRed", label: "Sim. Slow (TPD)" },
  { row: 0, mx: 744, mw: 11, tx: 780, mark: "circle", label: "Obs. MW" },
  { row: 1, mx: 33, mw: 21, tx: 70, mark: "dashPurple", label: "Sim. BW (OPD)" },
  { row: 1, mx: 308, mw: 22, tx: 347, mark: "blueLine", label: "Sim. Fast (TPD)" },
  { row: 1, mx: 530, mw: 23, tx: 570, mark: "purpleThick", label: "Sim. BW (TPD)" },
  { row: 2, mx: 37, mw: 8, tx: 70, mark: "diamond", label: <>Obs. {theta}</> },
  { row: 2, mx: 147, mw: 22, tx: 185, mark: "purpleLine", label: <>Sim. {theta}</> },
  { row: 2, mx: 265, mw: 15, tx: 297, mark: "pinkBox", label: <>Sim. {theta}<sub style={subStyle}>slow</sub></> },
  { row: 2, mx: 404, mw: 16, tx: 440, mark: "blueBox", label: <>Sim. {theta}<sub style={subStyle}>fast</sub></> },
];

function markStyle(kind: MarkKind, x: number, w: number, cy: number): React.CSSProperties {
  const bar = (h: number, bg: string): React.CSSProperties => ({
    position: "absolute",
    left: x,
    top: cy - h / 2,
    width: w,
    height: h,
    background: bg,
  });
  switch (kind) {
    case "dot":
      return { position: "absolute", left: x, top: cy - 2, width: 4, height: 4, borderRadius: "50%", background: "#555" };
    case "dotted":
      return bar(2.5, `repeating-linear-gradient(to right, ${PURPLE_DOT} 0 2px, transparent 2px 4.5px)`);
    case "dashRed":
      return bar(3, `repeating-linear-gradient(to right, ${RED} 0 7px, transparent 7px 13px)`);
    case "circle":
      return {
        position: "absolute",
        left: x,
        top: cy - w / 2,
        width: w,
        height: w,
        borderRadius: "50%",
        background: MW_FILL,
        boxSizing: "border-box",
        border: "1px solid #333",
      };
    case "dashPurple":
      return bar(3.5, `repeating-linear-gradient(to right, ${PURPLE_DASH} 0 7px, transparent 7px 13px)`);
    case "blueLine":
      return bar(3, BLUE);
    case "purpleThick":
      return bar(5, PURPLE);
    case "diamond":
      return {
        position: "absolute",
        left: x + 1,
        top: cy - 3,
        width: 6,
        height: 6,
        background: "#232323",
        transform: "rotate(45deg) scale(0.8, 1.1)",
      };
    case "purpleLine":
      return bar(4, "#8b2a9b");
    case "pinkBox":
      return bar(w, "#fde3e3");
    case "blueBox":
      return bar(w, "#e8eef9");
  }
}

function Legend() {
  return (
    <>
      {legendItems.map((it, i) => {
        const cy = legendRowsY[it.row];
        return (
          <React.Fragment key={i}>
            <div style={markStyle(it.mark, it.mx, it.mw, cy)} />
            <div
              style={{
                position: "absolute",
                left: it.tx,
                top: cy - 12,
                height: 24,
                lineHeight: "24px",
                fontSize: 21,
                whiteSpace: "nowrap",
                color: INK,
              }}
            >
              {it.label}
            </div>
          </React.Fragment>
        );
      })}
    </>
  );
}

export default function App() {
  const aRef = useRef<HTMLCanvasElement | null>(null);
  const bRef = useRef<HTMLCanvasElement | null>(null);
  const cRef = useRef<HTMLCanvasElement | null>(null);
  const dRef = useRef<HTMLCanvasElement | null>(null);

  useEffect(() => {
    const charts: Chart[] = [];
    if (aRef.current) charts.push(new Chart(aRef.current, rainConfig()));
    if (bRef.current) charts.push(new Chart(bRef.current, d2hConfig()));
    if (cRef.current) charts.push(new Chart(cRef.current, lcConfig()));
    if (dRef.current) charts.push(new Chart(dRef.current, thetaConfig()));
    return () => charts.forEach((c) => c.destroy());
  }, []);

  const canvasStyle = (top: number, height: number): React.CSSProperties => ({
    position: "absolute",
    left: 0,
    top,
    width: 869,
    height,
  });

  return (
    <div
      style={{
        position: "absolute",
        left: 0,
        top: 0,
        width: 869,
        height: 790,
        background: "#ffffff",
        fontFamily: FONT,
        color: INK,
        overflow: "hidden",
      }}
    >
      <div style={{ position: "absolute", left: 110, top: 8, fontSize: 26, lineHeight: "26px", whiteSpace: "nowrap" }}>
        Bruntland Burn, NH
      </div>
      <canvas ref={aRef} width={869} height={100} style={canvasStyle(0, 100)} />
      <canvas ref={bRef} width={869} height={215} style={canvasStyle(100, 215)} />
      <canvas ref={cRef} width={869} height={216} style={canvasStyle(318, 216)} />
      <canvas ref={dRef} width={869} height={165} style={canvasStyle(535, 165)} />
      <Legend />
    </div>
  );
}
